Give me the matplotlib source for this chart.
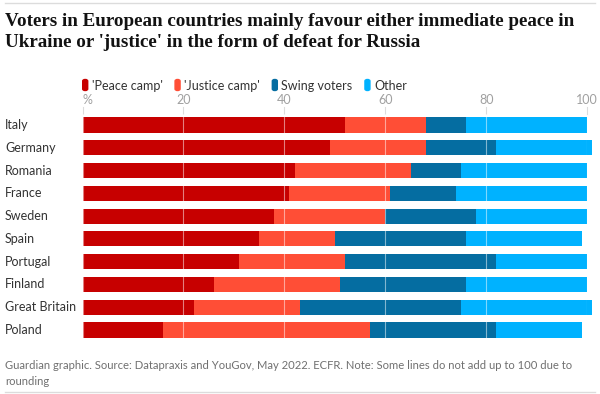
import numpy as np
import matplotlib
matplotlib.use("Agg")
import matplotlib.pyplot as plt
from matplotlib.patches import FancyBboxPatch

# Data
countries = ["Italy", "Germany", "Romania", "France", "Sweden", "Spain",
             "Portugal", "Finland", "Great Britain", "Poland"]
peace = [52, 49, 42, 41, 38, 35, 31, 26, 22, 16]
justice = [16, 19, 23, 20, 22, 15, 21, 25, 21, 41]
swing = [8, 14, 10, 13, 18, 26, 30, 25, 32, 25]
other = [24, 19, 25, 26, 22, 23, 18, 24, 26, 17]
series_names = ["'Peace camp'", "'Justice camp'", "Swing voters", "Other"]
colors = ["#c70000", "#ff4e36", "#056da1", "#00b2ff"]
ticks = [0, 20, 40, 60, 80, 100]
tick_labels = ["%", "20", "40", "60", "80", "100"]

SANS = "Lato"
W, H = 600, 394
fig = plt.figure(figsize=(W / 100, H / 100), dpi=100)

ax = fig.add_axes([82.5 / W, 1 - 341.4 / H, (587.3 - 82.5) / W, 227.8 / H])
ypos = np.arange(len(countries))
left = np.zeros(len(countries))
for vals, col in zip([peace, justice, swing, other], colors):
    ax.barh(ypos, vals, left=left, height=0.66, color=col, edgecolor="none",
            clip_on=False, zorder=2)
    left += np.array(vals)

ax.set_xlim(0, 100)
ax.set_ylim(len(countries) - 0.5, -0.5)
for t, lab in zip(ticks, tick_labels):
    ax.axvline(t, color="white", alpha=0.5, lw=0.8, zorder=3)
    ax.plot([t, t], [-0.5, -0.78], color="#dcdcdc", lw=0.8, clip_on=False, zorder=1)
    ax.text(t, -0.82, lab, ha="left" if t == 0 else "center",
            va="bottom", fontsize=9, color="#a0a0a0", family=SANS)
for i, c in enumerate(countries):
    ax.text(-77.5 / 5.048, i, c, ha="left", va="center", fontsize=9,
            color="#333333", family=SANS)
ax.axis("off")

# legend
lx = 82.7
for name, col in zip(series_names, colors):
    fig.patches.append(FancyBboxPatch((lx / W, 1 - 90.5 / H), 5 / W, 11 / H,
                                      boxstyle="round,pad=0,rounding_size=0.004",
                                      transform=fig.transFigure, color=col))
    t = fig.text((lx + 9) / W, 1 - 86 / H, name, fontsize=9, color="#333333",
                 va="center", ha="left", family=SANS)
    fig.canvas.draw()
    bb = t.get_window_extent()
    lx = bb.x1 + 12.5

# title
fig.text(5 / W, 1 - 13 / H,
         "Voters in European countries mainly favour either immediate peace in\n"
         "Ukraine or 'justice' in the form of defeat for Russia",
         ha="left", va="top", fontsize=13.65, fontweight="bold",
         family="Liberation Serif", color="#121212", linespacing=1.3)

# footer
fig.text(5 / W, 1 - 360 / H,
         "Guardian graphic. Source: Datapraxis and YouGov, May 2022. ECFR. "
         "Note: Some lines do not add up to 100 due to\nrounding",
         ha="left", va="top", fontsize=8.15, color="#707070", linespacing=1.55,
         family=SANS)

# rules
fig.add_artist(plt.Line2D([5 / W, 595 / W], [1 - 3 / H, 1 - 3 / H],
                          color="#dcdcdc", lw=1, transform=fig.transFigure))
fig.add_artist(plt.Line2D([5 / W, 595 / W], [1 - 392 / H, 1 - 392 / H],
                          color="#dcdcdc", lw=1, transform=fig.transFigure))

fig.savefig("out.png", dpi=100)
